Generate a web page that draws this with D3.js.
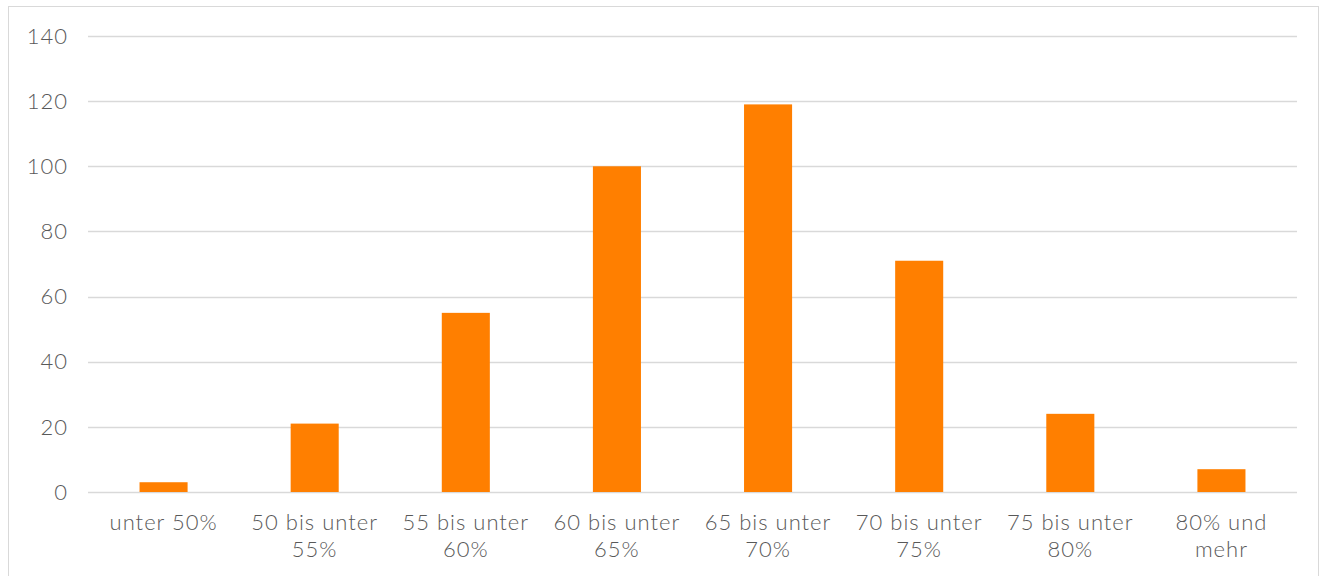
<!DOCTYPE html>
<html>
<head>
<meta charset="utf-8">
<script src="https://cdn.jsdelivr.net/npm/d3@7"></script>
<style>
  html, body { margin: 0; padding: 0; background: #fff; }
  svg { display: block; }
  text { font-family: "Century Gothic", "URW Gothic", Lato, "Noto Sans", sans-serif; font-weight: 300; fill: #595959; letter-spacing: 1px; }
</style>
</head>
<body>
<div id="chart"></div>
<script>
var categories = ["unter 50%", "50 bis unter 55%", "55 bis unter 60%", "60 bis unter 65%",
                  "65 bis unter 70%", "70 bis unter 75%", "75 bis unter 80%", "80% und mehr"];
var values = [3, 21, 55, 100, 119, 71, 24, 7];
var yTicks = [0, 20, 40, 60, 80, 100, 120, 140];

var width = 1326, height = 576;
var margin = { top: 36, right: 29, bottom: 84, left: 88 };
var innerW = width - margin.left - margin.right;
var innerH = height - margin.top - margin.bottom;

var svg = d3.select('#chart').append('svg')
    .attr('width', width)
    .attr('height', height);

// outer chart frame
svg.append('rect')
    .attr('x', 8.5).attr('y', 6.5)
    .attr('width', 1310).attr('height', 600)
    .attr('fill', 'none')
    .attr('stroke', '#d9d9d9')
    .attr('stroke-width', 1);

var g = svg.append('g').attr('transform', 'translate(' + margin.left + ',' + margin.top + ')');

var x = d3.scaleBand().domain(categories).range([0, innerW]).paddingInner(0.682).paddingOuter(0.341);
var y = d3.scaleLinear().domain([0, 140]).range([innerH, 0]);

// gridlines
g.selectAll('line.grid')
    .data(yTicks)
    .enter().append('line')
    .attr('class', 'grid')
    .attr('x1', 0).attr('x2', innerW)
    .attr('y1', function (d) { return Math.round(y(d)) + 0.5; })
    .attr('y2', function (d) { return Math.round(y(d)) + 0.5; })
    .attr('stroke', '#d9d9d9')
    .attr('stroke-width', 1.5);

// y labels
g.selectAll('text.ylab')
    .data(yTicks)
    .enter().append('text')
    .attr('class', 'ylab')
    .attr('x', -20)
    .attr('y', function (d) { return y(d); })
    .attr('dy', '0.35em')
    .attr('text-anchor', 'end')
    .style('font-size', '22px')
    .text(function (d) { return d; });

// bars
g.selectAll('rect.bar')
    .data(values)
    .enter().append('rect')
    .attr('class', 'bar')
    .attr('x', function (d, i) { return x(categories[i]); })
    .attr('width', x.bandwidth())
    .attr('y', function (d) { return y(d); })
    .attr('height', function (d) { return y(0) - y(d); })
    .attr('fill', '#ff7f00');

// category labels with wrapping
var xl = g.append('g').attr('transform', 'translate(0,' + innerH + ')');
categories.forEach(function (c) {
    var cx = x(c) + x.bandwidth() / 2;
    var t = xl.append('text')
        .attr('x', cx)
        .attr('y', 38)
        .attr('text-anchor', 'middle')
        .style('font-size', '22px');
    var words = c.split(' ');
    var line = [];
    var ts = t.append('tspan').attr('x', cx).attr('dy', 0);
    words.forEach(function (w) {
        line.push(w);
        ts.text(line.join(' '));
        if (ts.node().getComputedTextLength() > 136 && line.length > 1) {
            line.pop();
            ts.text(line.join(' '));
            line = [w];
            ts = t.append('tspan').attr('x', cx).attr('dy', 27).text(w);
        }
    });
});
</script>
</body>
</html>
